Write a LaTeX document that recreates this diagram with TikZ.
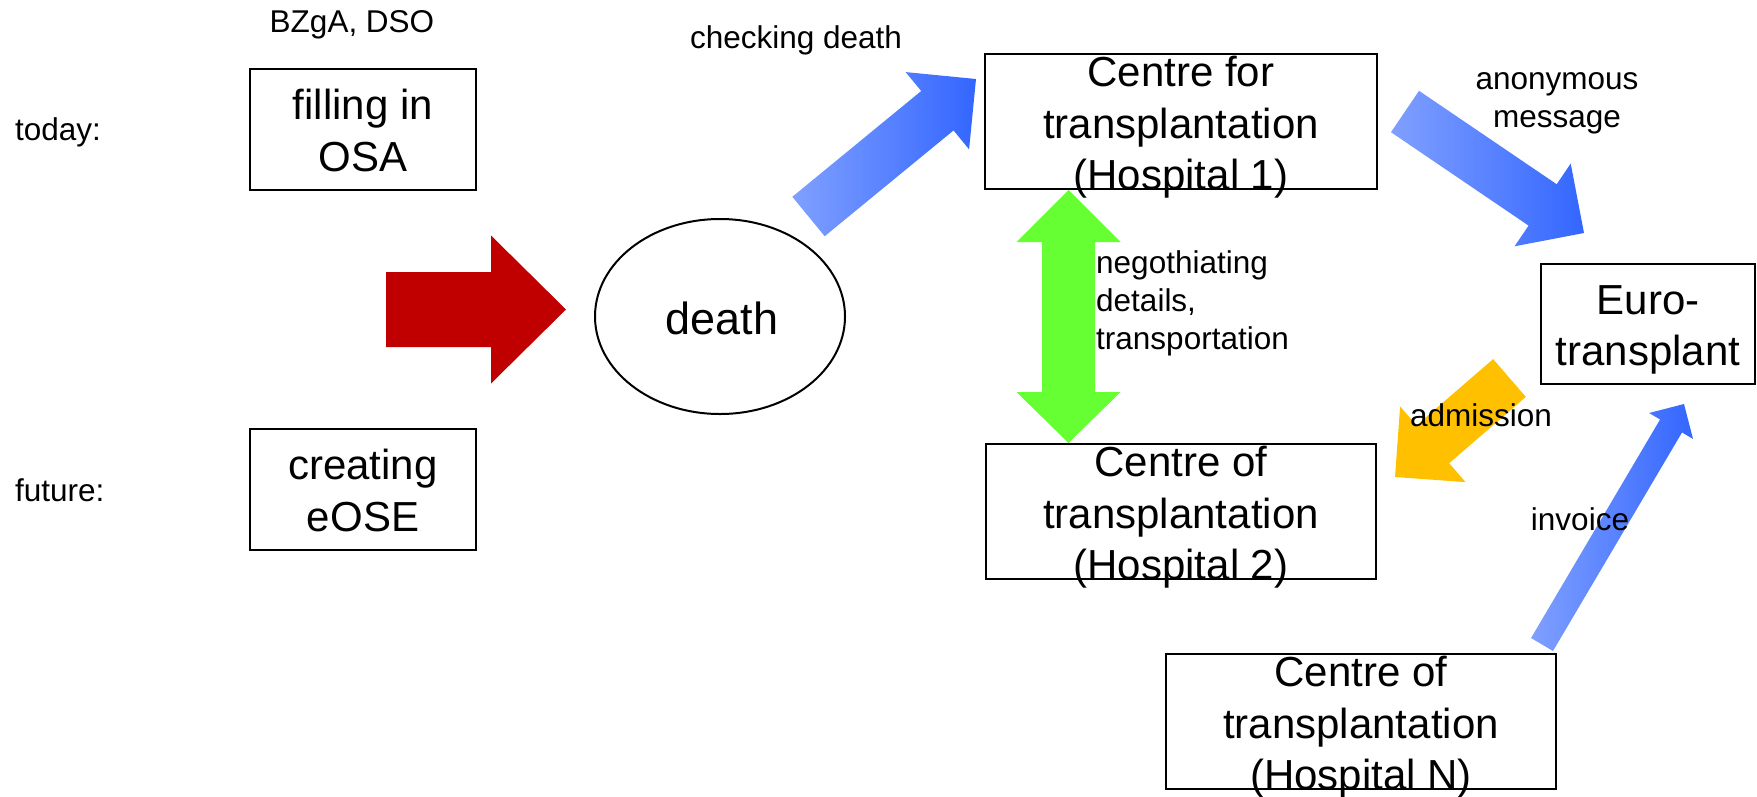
\documentclass[tikz,border=0pt]{standalone}
\usepackage{fontspec}
\setmainfont{Liberation Sans}
\usetikzlibrary{calc,backgrounds,shapes.geometric}
\definecolor{lightblue}{RGB}{128,160,255}
\definecolor{darkblue}{RGB}{51,102,255}
\definecolor{arrowred}{RGB}{192,0,0}
\definecolor{arrowgreen}{RGB}{102,255,51}
\definecolor{arroworange}{RGB}{255,192,0}
% #1 style, #2 tail coordinate, #3 tip coordinate, #4 shaft half width, #5 head half width, #6 head length
\newcommand\blockarrow[6]{%
  \coordinate (#2-#3-b) at ($(#3)!#6!(#2)$);
  \path[#1] ($(#2)!#4!90:(#3)$) -- ($(#2-#3-b)!#4!90:(#3)$) -- ($(#2-#3-b)!#5!90:(#3)$)
    -- (#3) -- ($(#2-#3-b)!#5!-90:(#3)$) -- ($(#2-#3-b)!#4!-90:(#3)$) -- ($(#2)!#4!-90:(#3)$) -- cycle;
}
\tikzset{
  box/.style={draw, line width=2.5pt, inner sep=0pt},
  big/.style={font=\fontsize{42}{51.5}\selectfont, align=center, inner sep=0pt},
  small/.style={font=\fontsize{31.5}{38}\selectfont, inner sep=0pt},
  bluegrad/.style={left color=lightblue, right color=darkblue, draw=none},
}
\begin{document}
\begin{tikzpicture}[x=1pt, y=-1pt]
\useasboundingbox (0,0) rectangle (1757,796);
% labels
\node[small, anchor=west] (today) at (15,132) {today:};
\node[small, anchor=west] (future) at (15,490) {future:};
\node[small] (bzga) at (352,25) {BZgA, DSO};
\node[small] (chk) at (796,40) {checking death};
\node[small, align=center] (anon) at (1557,103.5) {anonymous\\message};
\node[small, align=left, anchor=west] (neg) at (1096,303.5) {negothiating\\details,\\transportation};
\node[small] (adm) at (1481,415) {admission};
\node[small] (inv) at (1580,519) {invoice};
% boxes
\node[box, minimum width=226, minimum height=121] (osa) at (363,129.5) {};
\node[big, yshift=-1pt] (osat) at (osa) {filling in\\OSA};
\node[box, minimum width=226, minimum height=121] (eose) at (363,489.5) {};
\node[big, yshift=-1pt] (eoset) at (eose) {creating\\eOSE};
\node[box, line width=2pt, ellipse, minimum width=250, minimum height=195] (death) at (720,316.5) {};
\node[font=\fontsize{45}{54}\selectfont, inner sep=0pt] (deatht) at (722,318) {death};
\node[box, minimum width=392, minimum height=135] (h1) at (1181,121.5) {};
\node[big, yshift=-6pt] (h1t) at (h1) {Centre for\\transplantation\\(Hospital 1)};
\node[box, minimum width=390, minimum height=135] (h2) at (1181,511.5) {};
\node[big, yshift=-6pt] (h2t) at (h2) {Centre of\\transplantation\\(Hospital 2)};
\node[box, minimum width=390, minimum height=135] (hn) at (1361,721.5) {};
\node[big, yshift=-6pt] (hnt) at (hn) {Centre of\\transplantation\\(Hospital N)};
\node[box, minimum width=214, minimum height=120] (euro) at (1648,324) {};
\node[big, yshift=-6pt] (eurot) at (euro) {Euro-\\transplant};
% arrows
\begin{pgfonlayer}{background}
\coordinate (rt) at (386,309.5);
\coordinate (rh) at (566,309.5);
\blockarrow{fill=arrowred}{rt}{rh}{37.5pt}{74pt}{75pt}
\coordinate (b1t) at (808.5,216.5);
\coordinate (b1h) at (976,79);
\blockarrow{bluegrad}{b1t}{b1h}{25.5pt}{50pt}{50pt}
\coordinate (b2t) at (1405,111.5);
\coordinate (b2h) at (1584,233);
\blockarrow{bluegrad}{b2t}{b2h}{25pt}{50pt}{50pt}
\coordinate (ot) at (1509.5,378);
\coordinate (oh) at (1395,477);
\blockarrow{fill=arroworange}{ot}{oh}{25pt}{50pt}{50pt}
\coordinate (it) at (1542,644.5);
\coordinate (ih) at (1684,404);
\blockarrow{bluegrad}{it}{ih}{12.75pt}{25.5pt}{25.5pt}
\coordinate (gt) at (1068.5,190);
\coordinate (gb) at (1068.5,443);
\fill[arrowgreen] (gt) -- ($(gt)+(52,52)$) -- ($(gt)+(26.5,52)$) -- ($(gb)+(26.5,-51)$)
  -- ($(gb)+(52,-51)$) -- (gb) -- ($(gb)+(-52,-51)$) -- ($(gb)+(-26.5,-51)$)
  -- ($(gt)+(-26.5,52)$) -- ($(gt)+(-52,52)$) -- cycle;
\end{pgfonlayer}
\end{tikzpicture}
\end{document}
